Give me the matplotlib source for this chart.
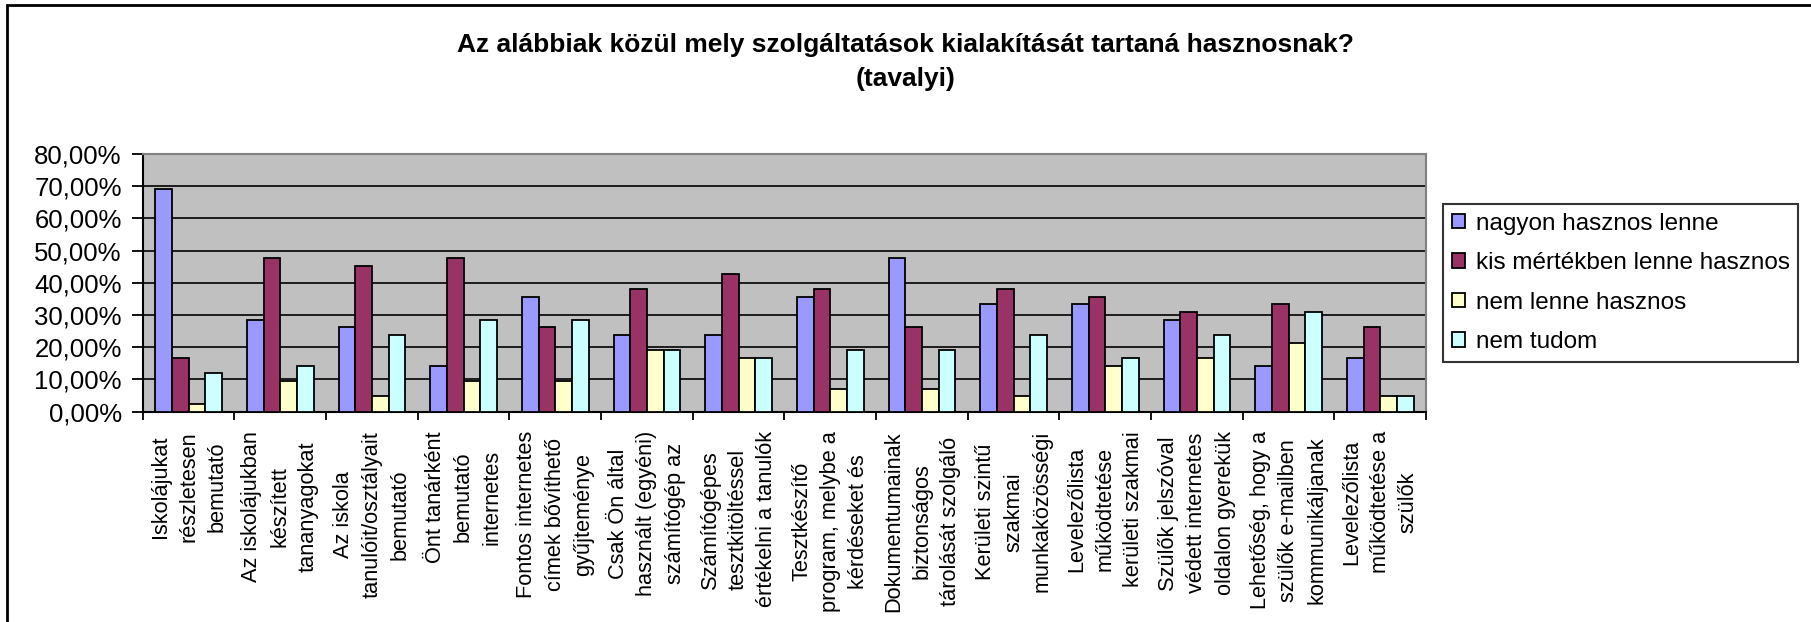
import matplotlib
matplotlib.use("Agg")
import matplotlib.pyplot as plt
import numpy as np
from matplotlib.ticker import FuncFormatter, FixedLocator
from matplotlib.patches import Rectangle

plt.rcParams['font.family'] = ['Liberation Sans', 'DejaVu Sans']

categories = [
    "Iskolájukat\nrészletesen\nbemutató",
    "Az iskolájukban\nkészített\ntananyagokat",
    "Az iskola\ntanulóit/osztályait\nbemutató",
    "Önt tanárként\nbemutató\ninternetes",
    "Fontos internetes\ncímek bővíthető\ngyűjteménye",
    "Csak Ön által\nhasznált (egyéni)\nszámítógép az",
    "Számítógépes\ntesztkitöltéssel\nértékelni a tanulók",
    "Tesztkészítő\nprogram, melybe a\nkérdéseket és",
    "Dokumentumainak\nbiztonságos\ntárolását szolgáló",
    "Kerületi szintű\nszakmai\nmunkaközösségi",
    "Levelezőlista\nműködtetése\nkerületi szakmai",
    "Szülők jelszóval\nvédett internetes\noldalon gyerekük",
    "Lehetőség, hogy a\nszülők e-mailben\nkommunikáljanak",
    "Levelezőlista\nműködtetése a\nszülők",
]

series_names = ["nagyon hasznos lenne", "kis mértékben lenne hasznos",
                "nem lenne hasznos", "nem tudom"]

nagyon = [69.05, 28.57, 26.19, 14.29, 35.71, 23.81, 23.81, 35.71, 47.62, 33.33, 33.33, 28.57, 14.29, 16.67]
kis = [16.67, 47.62, 45.24, 47.62, 26.19, 38.10, 42.86, 38.10, 26.19, 38.10, 35.71, 30.95, 33.33, 26.19]
nem = [2.38, 9.52, 4.76, 9.52, 9.52, 19.05, 16.67, 7.14, 7.14, 4.76, 14.29, 16.67, 21.43, 4.76]
nem_tudom = [11.90, 14.29, 23.81, 28.57, 28.57, 19.05, 16.67, 19.05, 19.05, 23.81, 16.67, 23.81, 30.95, 4.76]

colors = ["#9999FF", "#993366", "#FFFFCC", "#CCFFFF"]

W, H = 1811, 622
fig = plt.figure(figsize=(W / 100, H / 100), dpi=100)
ax = fig.add_axes([142.7 / W, 1 - 411.7 / H, (1426 - 142.7) / W, (411.7 - 154) / H])
ax.set_facecolor("#C0C0C0")

x = np.arange(len(categories))
w = 1 / 5.5
for k, (vals, name, col) in enumerate(zip([nagyon, kis, nem, nem_tudom], series_names, colors)):
    ax.bar(x + (k - 1.5) * w, vals, width=w, color=col, edgecolor="black",
           linewidth=1.3, label=name, zorder=3)

ax.set_xlim(-0.5, len(categories) - 0.5)
ax.set_ylim(0, 80)
ax.yaxis.set_major_locator(FixedLocator(np.arange(0, 81, 10)))
ax.yaxis.set_major_formatter(FuncFormatter(lambda v, p: f"{v:.2f}%".replace(".", ",")))
ax.grid(axis="y", color="black", linewidth=1.2, zorder=1)
ax.tick_params(axis="y", labelsize=18.5, length=8, width=1.3, pad=7, color="black")

ax.set_xticks(np.arange(-0.5, len(categories), 1.0))
ax.set_xticklabels([])
ax.set_xticks(x, minor=True)
ax.set_xticklabels(categories, minor=True, rotation=90, fontsize=15.7,
                   ha="center", va="top", multialignment="center", linespacing=1.45)
ax.tick_params(axis="x", which="major", length=6, width=1.3)
ax.tick_params(axis="x", which="minor", length=0, pad=14)

for s in ["left", "bottom"]:
    ax.spines[s].set_color("black")
    ax.spines[s].set_linewidth(1.5)
for s in ["top", "right"]:
    ax.spines[s].set_color("#808080")
    ax.spines[s].set_linewidth(1.5)

fig.text(0.5, 1 - 62 / H, "Az alábbiak közül mely szolgáltatások kialakítását tartaná hasznosnak?\n(tavalyi)",
         ha="center", va="center", fontsize=19, fontweight="bold", linespacing=1.5)

leg = fig.legend(loc="upper left", bbox_to_anchor=(1443 / W, 1 - 204 / H), borderaxespad=0,
                 fontsize=17.5, frameon=True, fancybox=False, edgecolor="black",
                 handlelength=0.55, handleheight=0.55, handletextpad=0.45,
                 labelspacing=0.72, borderpad=0.35)
leg.get_frame().set_linewidth(1.5)

fig.add_artist(Rectangle((7 / W, -0.1), 1.2, 1 - 5 / H + 0.1, transform=fig.transFigure,
                         fill=False, edgecolor="black", linewidth=2))

fig.savefig("out.png", dpi=100, facecolor="white")
